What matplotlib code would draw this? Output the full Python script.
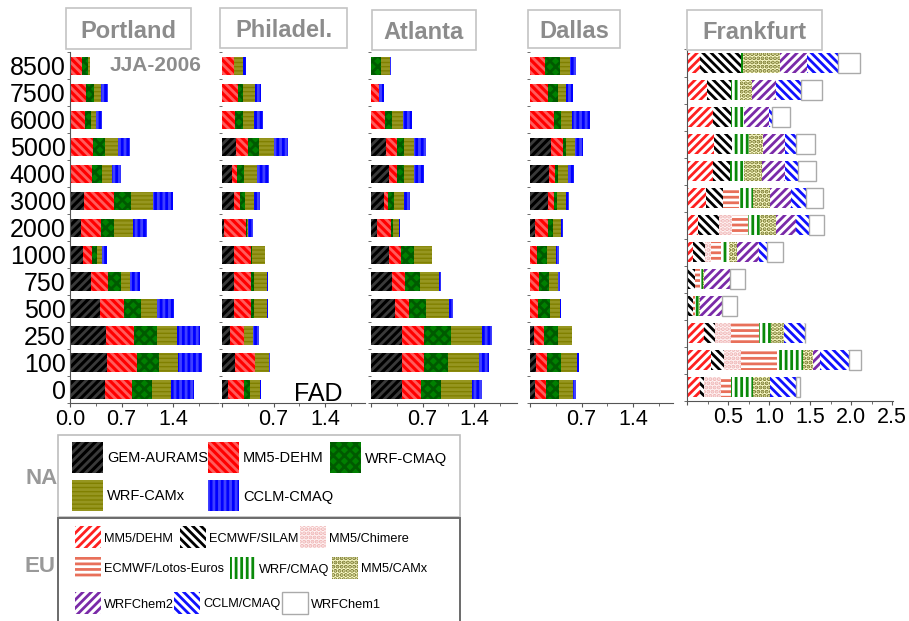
import numpy as np
import matplotlib.pyplot as plt
from matplotlib.patches import Rectangle

plt.rcParams['font.family'] = ['Liberation Sans', 'DejaVu Sans']
plt.rcParams['hatch.linewidth'] = 2.0

W, H = 909, 621

# altitude bins, top to bottom as drawn
levels = ['8500', '7500', '6000', '5000', '4000', '3000', '2000',
          '1000', '750', '500', '250', '100', '0']

# North American models
na_models = ['GEM-AURAMS', 'MM5-DEHM', 'WRF-CMAQ', 'WRF-CAMx', 'CCLM-CMAQ']
na_colors = ['#000000', '#ff0000', '#008000', '#808000', '#0000ff']
na_hatches = ['////', '\\\\\\\\', 'xxx', '----', '|||']
na_hatch_colors = ['#3a3a3a', '#ff5c5c', '#005a00', '#969620', '#4040ff']

# one list per NA model (same order as na_models)
portland = [
    [0, 0, 0, 0.01, 0, 0.195, 0.145, 0.17, 0.285, 0.41, 0.485, 0.50, 0.47],
    [0.167, 0.22, 0.20, 0.30, 0.30, 0.40, 0.27, 0.135, 0.235, 0.33, 0.39, 0.41, 0.37],
    [0.08, 0.11, 0.08, 0.17, 0.13, 0.24, 0.185, 0.065, 0.17, 0.23, 0.31, 0.30, 0.28],
    [0.03, 0.085, 0.08, 0.17, 0.14, 0.29, 0.25, 0.06, 0.13, 0.21, 0.27, 0.26, 0.25],
    [0, 0.105, 0.08, 0.16, 0.12, 0.27, 0.20, 0.07, 0.13, 0.23, 0.31, 0.32, 0.32],
]
philadelphia = [
    [0, 0, 0, 0.19, 0.135, 0.16, 0.03, 0.16, 0.16, 0.16, 0.105, 0.17, 0.08],
    [0.16, 0.22, 0.17, 0.16, 0.07, 0.08, 0.29, 0.23, 0.23, 0.23, 0.19, 0.28, 0.22],
    [0, 0.07, 0.11, 0.155, 0.10, 0.07, 0.015, 0.015, 0.045, 0.045, 0, 0, 0.08],
    [0.13, 0.155, 0.16, 0.20, 0.17, 0.13, 0.02, 0.18, 0.18, 0.18, 0.13, 0.195, 0.135],
    [0.04, 0.09, 0.12, 0.185, 0.17, 0.07, 0.065, 0.005, 0.01, 0.01, 0.08, 0.005, 0.02],
]
atlanta = [
    [0, 0, 0, 0.21, 0.245, 0.17, 0.075, 0.245, 0.29, 0.32, 0.415, 0.415, 0.415],
    [0, 0.11, 0.19, 0.145, 0.105, 0.055, 0.19, 0.16, 0.17, 0.19, 0.31, 0.31, 0.27],
    [0.135, 0, 0.095, 0.09, 0.10, 0.09, 0.035, 0.18, 0.20, 0.235, 0.36, 0.325, 0.27],
    [0.12, 0, 0.145, 0.14, 0.135, 0.13, 0.08, 0.24, 0.27, 0.32, 0.42, 0.42, 0.415],
    [0.02, 0.06, 0.13, 0.16, 0.14, 0.08, 0.02, 0, 0.02, 0.045, 0.135, 0.135, 0.14],
]
dallas = [
    [0, 0, 0, 0.28, 0.26, 0.25, 0.07, 0, 0, 0, 0.055, 0.08, 0.07],
    [0.21, 0.24, 0.33, 0.17, 0.085, 0.07, 0.18, 0.10, 0.12, 0.115, 0.14, 0.145, 0.145],
    [0.20, 0.145, 0.085, 0.045, 0.03, 0.045, 0.06, 0.135, 0.14, 0.16, 0.18, 0.20, 0.185],
    [0.14, 0.105, 0.16, 0.115, 0.145, 0.12, 0.11, 0.115, 0.12, 0.13, 0.19, 0.21, 0.19],
    [0.08, 0.09, 0.24, 0.105, 0.08, 0.045, 0.035, 0.045, 0.03, 0.02, 0, 0.03, 0.035],
]

# European models (Frankfurt)
eu_models = ['MM5/DEHM', 'ECMWF/SILAM', 'MM5/Chimere', 'ECMWF/Lotos-Euros',
             'WRF/CMAQ', 'MM5/CAMx', 'WRFChem2', 'CCLM/CMAQ', 'WRFChem1']
eu_faces = ['white', 'white', '#fff4f4', 'white', 'white', '#ffffcc', 'white', 'white', 'white']
eu_hatch_colors = ['#ff2020', '#000000', '#eeb4b4', '#e8705a', '#0a8a0a',
                   '#75752a', '#7a2aa8', '#1010ff', '#aaaaaa']
eu_hatches = ['////', '\\\\\\\\', '....', '---', '|||', '....', '////', '\\\\\\\\', '']

fr_dehm = [0.163, 0.244, 0.317, 0.33, 0.317, 0.228, 0.134, 0.073, 0, 0, 0.203, 0.297, 0.163]
fr_silam = [0.50, 0.297, 0.224, 0.224, 0.21, 0.21, 0.252, 0.142, 0.093, 0.073, 0.142, 0.15, 0.045]
fr_chimere = [0, 0, 0, 0, 0, 0, 0.167, 0.08, 0, 0, 0.195, 0.215, 0.211]
fr_lotos = [0, 0, 0, 0, 0, 0.195, 0.19, 0.12, 0.07, 0.02, 0.333, 0.44, 0.122]
fr_wrfcmaq = [0.02, 0.10, 0.155, 0.20, 0.167, 0.17, 0.142, 0.093, 0.03, 0.05, 0.155, 0.313, 0.264]
fr_camx = [0.447, 0.155, 0, 0.175, 0.224, 0.21, 0.195, 0.10, 0.02, 0.02, 0.15, 0.122, 0.211]
fr_chem2 = [0.337, 0.293, 0.305, 0.264, 0.272, 0.256, 0.244, 0.264, 0.31, 0.268, 0, 0.08, 0]
fr_cclm = [0.374, 0.305, 0.03, 0.134, 0.163, 0.183, 0.159, 0.10, 0, 0, 0.264, 0.358, 0.31]
fr_chem1 = [0.264, 0.256, 0.224, 0.232, 0.224, 0.21, 0.183, 0.195, 0.183, 0.18, 0, 0.142, 0.057]
frankfurt = [fr_dehm, fr_silam, fr_chimere, fr_lotos, fr_wrfcmaq,
             fr_camx, fr_chem2, fr_cclm, fr_chem1]

GRAY = '#8c8c8c'


def fx(x):
    return x / W


def fy(y):
    return 1 - y / H


fig = plt.figure(figsize=(W / 100, H / 100), dpi=100)


def make_axes(x0, x1, y0, y1):
    return fig.add_axes([fx(x0), fy(y1), (x1 - x0) / W, (y1 - y0) / H])


def title_box(x0, x1, y0, y1, text):
    fig.add_artist(Rectangle((fx(x0), fy(y1)), (x1 - x0) / W, (y1 - y0) / H,
                             transform=fig.transFigure, facecolor='white',
                             edgecolor='#c4c4c4', lw=1.2))
    fig.text(fx((x0 + x1) / 2), fy((y0 + y1) / 2), text, ha='center',
             va='center_baseline', fontsize=17, fontweight='bold', color=GRAY)


def style_axes(ax, left_spine, ylabels):
    n = len(levels)
    ax.set_ylim(n - 1 + 0.443, -0.517)
    for s in ['top', 'right']:
        ax.spines[s].set_visible(False)
    ax.spines['left'].set_visible(left_spine)
    ax.spines['bottom'].set_color('#555555')
    ax.spines['left'].set_color('#555555')
    ax.set_yticks(np.arange(n))
    ax.set_yticks(np.arange(-0.5, n, 1), minor=True)
    ax.tick_params(axis='y', which='major', length=0, pad=3, labelsize=18)
    ax.tick_params(axis='y', which='minor', length=2.5, color='#555555')
    if ylabels:
        ax.set_yticklabels(levels)
    else:
        ax.set_yticklabels([])
    ax.tick_params(axis='x', which='both', direction='out', color='#555555', pad=1.5,
                   labelsize=15.5)
    ax.tick_params(axis='x', which='major', length=3)
    ax.tick_params(axis='x', which='minor', length=2.5)


def stack(ax, series, colors, hatches, hcolors, height, edge_last=False):
    y = np.arange(len(levels))
    left = np.zeros(len(levels))
    for i, vals in enumerate(series):
        vals = np.array(vals)
        last = edge_last and i == len(series) - 1
        ax.barh(y, vals, left=left, height=height, color=colors[i],
                hatch=hatches[i] or None, edgecolor=hcolors[i],
                linewidth=1.0 if last else 0)
        left += vals


# NA panels
na_panels = [
    ('Portland', portland, (70, 218), (66, 191, 8, 49)),
    ('Philadel.', philadelphia, (222, 365), (220, 347, 8, 48)),
    ('Atlanta', atlanta, (371, 517), (372, 476, 10, 50)),
    ('Dallas', dallas, (530, 673), (528, 620, 10, 48)),
]
for i, (name, data, (x0, x1), box) in enumerate(na_panels):
    ax = make_axes(x0, x1, 52, 403)
    stack(ax, data, na_colors, na_hatches, na_hatch_colors, 0.68)
    ax.set_xlim(0, (x1 - x0) / 73.6)
    style_axes(ax, left_spine=(i == 0), ylabels=(i == 0))
    ax.set_xticks([0, 0.7, 1.4])
    ax.set_xticks(np.arange(0.35, ax.get_xlim()[1], 0.35), minor=True)
    if i == 0:
        ax.set_xticklabels(['0.0', '0.7', '1.4'])
    else:
        ax.set_xticklabels(['', '0.7', '1.4'])
    title_box(*box, name)
    if i == 0:
        ax.text(0.27, 0, 'JJA-2006', transform=ax.get_yaxis_transform(),
                ha='left', va='center', fontsize=15, fontweight='bold', color=GRAY)

# Frankfurt panel
ax = make_axes(687, 893, 49, 401)
stack(ax, frankfurt, eu_faces, eu_hatches, eu_hatch_colors, 0.74, edge_last=True)
ax.set_xlim(0, (893 - 687) / 82.0)
style_axes(ax, left_spine=True, ylabels=False)
ax.set_xticks([0, 0.5, 1.0, 1.5, 2.0, 2.5])
ax.set_xticklabels(['', '0.5', '1.0', '1.5', '2.0', '2.5'])
ax.set_xticks(np.arange(0.25, 2.5, 0.5), minor=True)
title_box(687, 822, 10, 50, 'Frankfurt')

fig.text(fx(318), fy(394), 'FAD', ha='center', va='center', fontsize=18)

# legends
fig.add_artist(Rectangle((fx(58), fy(517)), 402 / W, 82 / H, transform=fig.transFigure,
                         facecolor='white', edgecolor='#bdbdbd', lw=1.2))
fig.add_artist(Rectangle((fx(58), fy(630)), 402 / W, 112 / H, transform=fig.transFigure,
                         facecolor='white', edgecolor='#6a6a6a', lw=1.4))
fig.text(fx(42), fy(478), 'NA', ha='center', va='center', fontsize=16,
         fontweight='bold', color='#999999')
fig.text(fx(40), fy(566), 'EU', ha='center', va='center', fontsize=16,
         fontweight='bold', color='#999999')

na_slots = [(72, 457), (208, 457), (330, 457), (72, 495), (208, 495)]
for k, (x, y) in enumerate(na_slots):
    fig.add_artist(Rectangle((fx(x), fy(y + 15.5)), 31 / W, 31 / H, transform=fig.transFigure,
                             facecolor=na_colors[k], hatch=na_hatches[k],
                             edgecolor=na_hatch_colors[k], lw=0))
    fig.text(fx(x + 35), fy(y), na_models[k], ha='left', va='center_baseline',
             fontsize=10.5)

eu_slots = [(75, 537), (180, 537), (300, 537),
            (75, 568), (230, 568), (332, 568),
            (75, 603), (174, 603), (282, 603)]
for k, (x, y) in enumerate(eu_slots):
    fig.add_artist(Rectangle((fx(x), fy(y + 11)), 26 / W, 22 / H, transform=fig.transFigure,
                             facecolor=eu_faces[k], hatch=eu_hatches[k] or None,
                             edgecolor=eu_hatch_colors[k], lw=1.0 if k == 8 else 0))
    fig.text(fx(x + 29), fy(y), eu_models[k], ha='left', va='center_baseline',
             fontsize=9.2)

fig.savefig('out.png', dpi=100)
